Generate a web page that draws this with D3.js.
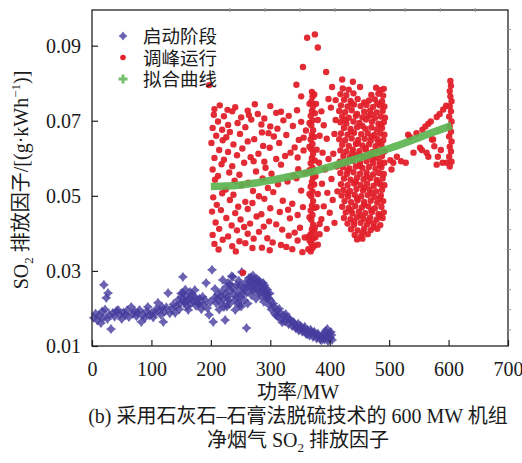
<!DOCTYPE html>
<html>
<head>
<meta charset="utf-8">
<script src="https://cdn.jsdelivr.net/npm/d3@7"></script>
<style>
  body { margin: 0; background: #fff; }
  text { font-family: "Liberation Serif", "Noto Sans CJK SC", serif; fill: #1a1a1a; }
</style>
</head>
<body>
<div id="chart"></div>
<script>
// x tick values and y tick values
const xTicks = [0, 100, 200, 300, 400, 500, 600, 700];
const yTicks = [0.01, 0.03, 0.05, 0.07, 0.09];
// faint minor ticks seen on top and right frame
const topMinor = [232, 291, 350, 409, 468, 527, 586, 645];
const rightMinor = [0.0943, 0.0890, 0.0837, 0.0783, 0.0730, 0.0677, 0.0623, 0.0570, 0.0517, 0.0463, 0.0410, 0.0357, 0.0303, 0.0250, 0.0197, 0.0143];

const legendNames = ["启动阶段", "调峰运行", "拟合曲线"];

// 启动阶段 (startup) points [MW, factor]
const startupPts = [
  [3,0.0175],[6,0.0186],[9,0.0168],[12,0.0181],[15,0.0161],[17,0.0192],[19,0.0175],[20,0.0263],[22,0.0197],[24,0.0228],
  [26,0.0172],[27,0.0241],[29,0.0183],[32,0.0145],[35,0.0188],[38,0.0178],[41,0.0193],[44,0.0196],[47,0.0184],[50,0.0172],
  [53,0.0189],[56,0.0183],[59,0.0195],[62,0.0177],[66,0.0204],[69,0.0186],[72,0.0191],[75,0.0179],[77,0.0188],[80,0.0196],
  [83,0.0164],[86,0.0183],[89,0.0175],[92,0.0192],[94,0.0204],[97,0.0181],[100,0.0187],
  [103,0.0176],[106,0.0188],[108,0.0198],[111,0.0215],[114,0.0196],[116,0.0183],[118,0.0204],[120,0.0164],[122,0.0191],[125,0.0203],
  [128,0.0241],[131,0.0187],[134,0.0199],[137,0.0211],[140,0.0188],[142,0.0206],[145,0.0223],[147,0.0198],[149,0.0214],[151,0.0229],
  [153,0.0284],[153,0.0241],[155,0.0218],[156,0.0215],[158,0.0232],[160,0.0205],[162,0.0196],[164,0.0227],[166,0.0213],[168,0.0238],
  [170,0.0219],[173,0.0249],[175,0.0207],[178,0.0215],[181,0.0226],[184,0.0198],[187,0.0211],[190,0.0223],[192,0.0268],[194,0.0201],
  [197,0.0183],[199,0.0217],
  [150,0.0240],[157,0.0250],[161,0.0222],[165,0.0244],[171,0.0230],[176,0.0226],[180,0.0212],[186,0.0231],
  [202,0.0303],[204,0.0164],[206,0.0228],[207,0.0252],[209,0.0214],[212,0.0238],[214,0.0197],[217,0.0215],[219,0.0246],[220,0.0276],
  [221,0.0225],[222,0.0204],[224,0.0169],[226,0.0258],[228,0.0231],[229,0.0268],[231,0.0212],[233,0.0249],[235,0.0286],[237,0.0284],
  [238,0.0237],[240,0.0221],[241,0.0196],[243,0.0262],[245,0.0245],[247,0.0274],[248,0.0208],[250,0.0231],[252,0.0297],[254,0.0255],
  [256,0.0222],[258,0.0268],[260,0.0148],[260,0.0242],[262,0.0213],[264,0.0281],[266,0.0259],[268,0.0236],[270,0.0271],[271,0.0288],
  [273,0.0249],[275,0.0265],[276,0.0226],[278,0.0278],[280,0.0257],[282,0.0241],[283,0.0269],[285,0.0233],[287,0.0252],[289,0.0218],
  [290,0.0262],[292,0.0244],[294,0.0226],[296,0.0238],[298,0.0209],[300,0.0222],
  [225,0.0240],[232,0.0265],[236,0.0255],[244,0.0230],[249,0.0262],[253,0.0240],[257,0.0251],[263,0.0262],[265,0.0272],[267,0.0283],
  [269,0.0250],[272,0.0262],[274,0.0278],[277,0.0270],[279,0.0247],[281,0.0274],[284,0.0259],[286,0.0245],[288,0.0268],[291,0.0255],
  [293,0.0235],[295,0.0250],[297,0.0228],[299,0.0240],[230,0.0222],[227,0.0205],[216,0.0232],[211,0.0226],[246,0.0215],[251,0.0205],
  [302,0.0197],[305,0.0213],[308,0.0186],[311,0.0196],[313,0.0178],[316,0.0189],[319,0.0171],[322,0.0182],[325,0.0165],[328,0.0176],
  [331,0.0158],[334,0.0169],[337,0.0153],[340,0.0162],[343,0.0147],[345,0.0150],[348,0.0141],[351,0.0153],[354,0.0138],[357,0.0146],
  [360,0.0133],[363,0.0141],[366,0.0128],[369,0.0137],[372,0.0124],[375,0.0131],[378,0.0120],[381,0.0128],[384,0.0118],[387,0.0125],
  [389,0.0132],[391,0.0117],[393,0.0140],[395,0.0126],[397,0.0113],[399,0.0134],[401,0.0122],[403,0.0129],[404,0.0116],
  [306,0.0205],[310,0.0181],[315,0.0199],[320,0.0163],[326,0.0185],[332,0.0172],[338,0.0164],[342,0.0155],[347,0.0159],[352,0.0145],
  [358,0.0151],[362,0.0131],[368,0.0143],[374,0.0138],[380,0.0133],[386,0.0115],[392,0.0128],[398,0.0121],[402,0.0137],[396,0.0145]
];

// 调峰运行 (peak regulation) points [MW, factor]
const peakPts = [
  // outliers
  [197,0.0795],[344,0.0796],[352,0.0765],[355,0.0843],[362,0.0921],[375,0.0930],[380,0.0895],[394,0.0830],[404,0.0790],
  [421,0.0810],[439,0.0804],[451,0.0790],[254,0.0295],
  // scattered cloud 200-365
  [215,0.0741],[228,0.0729],[241,0.0736],[262,0.0727],[300,0.0739],[318,0.0724],[274,0.0744],[206,0.0731],
  [205,0.0716],[222,0.0712],[236,0.0725],[251,0.0709],[279,0.0718],[290,0.0706],[310,0.0721],[331,0.0713],[345,0.0728],[264,0.0715],
  [212,0.0698],[245,0.0694],[268,0.0703],[285,0.0690],[322,0.0701],[352,0.0697],[229,0.0689],[300,0.0685],
  [203,0.0681],[219,0.0676],[232,0.0670],[258,0.0683],[297,0.0667],[338,0.0686],[360,0.0674],[312,0.0679],
  [209,0.0660],[226,0.0656],[249,0.0665],[273,0.0651],[306,0.0658],[327,0.0662],[348,0.0649],[286,0.0669],
  [201,0.0641],[238,0.0637],[262,0.0645],[288,0.0633],[315,0.0641],[341,0.0629],[220,0.0648],[356,0.0655],
  [214,0.0622],[229,0.0617],[253,0.0626],[280,0.0612],[299,0.0628],[334,0.0615],[356,0.0621],[244,0.0608],
  [206,0.0601],[222,0.0596],[267,0.0603],[310,0.0598],[325,0.0606],[290,0.0591],[346,0.0602],
  [218,0.0584],[236,0.0579],[256,0.0588],[292,0.0575],[318,0.0583],[347,0.0571],[203,0.0570],[272,0.0592],
  [231,0.0562],[248,0.0556],[276,0.0565],[302,0.0559],[339,0.0554],[358,0.0561],[212,0.0553],
  [240,0.0540],[263,0.0535],[287,0.0546],[329,0.0538],[207,0.0543],[252,0.0528],[313,0.0531],[344,0.0547],
  [225,0.0517],[271,0.0513],[296,0.0521],[219,0.0507],[238,0.0503],[281,0.0499],[305,0.0510],[352,0.0514],[204,0.0496],
  [232,0.0489],[258,0.0484],[290,0.0492],[321,0.0487],[337,0.0479],[210,0.0476],[246,0.0471],[270,0.0481],
  [300,0.0467],[330,0.0463],[355,0.0470],[202,0.0458],[217,0.0462],[241,0.0454],[262,0.0465],[285,0.0451],[316,0.0457],[346,0.0449],
  [226,0.0441],[250,0.0437],[277,0.0445],[298,0.0432],[333,0.0440],[208,0.0429],
  [235,0.0421],[266,0.0426],[289,0.0418],[310,0.0424],[350,0.0415],[214,0.0412],[244,0.0408],[256,0.0417],[281,0.0404],[320,0.0410],[341,0.0402],
  [203,0.0396],[229,0.0392],[262,0.0399],[295,0.0387],[331,0.0394],[358,0.0389],[220,0.0383],[248,0.0379],[272,0.0386],[304,0.0376],[346,0.0381],
  [206,0.0372],[236,0.0366],[258,0.0374],[286,0.0362],[318,0.0369],[337,0.0358],[213,0.0357],[242,0.0352],[270,0.0361],[299,0.0355],[327,0.0364],[354,0.0350],
  // vertical band near 370 MW
  [368,0.0352],[371,0.0361],[369,0.0373],[372,0.0386],[368,0.0398],[370,0.0411],[372,0.0423],[369,0.0436],[371,0.0449],[368,0.0461],
  [370,0.0474],[372,0.0486],[369,0.0499],[371,0.0512],[368,0.0524],[370,0.0537],[372,0.0549],[369,0.0562],[371,0.0575],[368,0.0587],
  [370,0.0600],[372,0.0612],[369,0.0625],[371,0.0638],[368,0.0650],[370,0.0663],[372,0.0675],[369,0.0688],[371,0.0701],[368,0.0713],
  [370,0.0726],[372,0.0738],[369,0.0751],[371,0.0764],[370,0.0777],[364,0.0358],[374,0.0367],[365,0.0392],[375,0.0415],
  [366,0.0381],[374,0.0405],[366,0.0443],[375,0.0468],[366,0.0505],[374,0.0530],[366,0.0568],[375,0.0594],[366,0.0631],[374,0.0657],
  [366,0.0694],[375,0.0720],[366,0.0745],[374,0.0770],
  // near the band
  [377,0.0745],[380,0.0702],[383,0.0660],[378,0.0623],[382,0.0588],[376,0.0552],[380,0.0505],[378,0.0470],[383,0.0425],[376,0.0390],[380,0.0370],
  // between band and dense cluster
  [386,0.0725],[390,0.0688],[395,0.0652],[388,0.0615],[398,0.0598],[392,0.0570],[403,0.0545],[387,0.0532],[396,0.0508],[405,0.0489],
  [390,0.0472],[400,0.0455],[386,0.0438],[408,0.0428],[395,0.0412],[383,0.0398],[402,0.0735],[410,0.0702],[408,0.0665],[412,0.0578],
  [406,0.0612],[413,0.0512],[398,0.0758],[410,0.0755],
  // dense cluster 415-493
  [422,0.0786],[432,0.0783],[478,0.0788],[486,0.0782],[491,0.0785],
  [418,0.0771],[428,0.0768],[440,0.0773],[470,0.0769],[482,0.0772],[490,0.0767],
  [424,0.0756],[435,0.0753],[447,0.0758],[466,0.0754],[476,0.0757],[488,0.0752],
  [419,0.0741],[430,0.0738],[441,0.0743],[452,0.0739],[462,0.0742],[473,0.0737],[484,0.0741],[492,0.0738],
  [416,0.0726],[426,0.0723],[437,0.0728],[458,0.0724],[468,0.0727],[479,0.0722],[489,0.0726],
  [421,0.0711],[432,0.0708],[444,0.0713],[455,0.0709],[465,0.0712],[476,0.0707],[486,0.0711],[493,0.0708],
  [418,0.0696],[428,0.0693],[440,0.0698],[450,0.0694],[471,0.0697],[482,0.0692],[491,0.0696],
  [424,0.0681],[435,0.0678],[446,0.0683],[460,0.0679],[470,0.0682],[479,0.0677],[488,0.0681],
  [419,0.0666],[430,0.0663],[441,0.0668],[453,0.0664],[464,0.0667],[475,0.0662],[485,0.0666],[492,0.0663],
  [416,0.0651],[426,0.0648],[437,0.0653],[448,0.0649],[459,0.0652],[469,0.0647],[480,0.0651],[490,0.0648],
  [421,0.0636],[432,0.0633],[444,0.0638],[455,0.0634],[466,0.0637],[477,0.0632],[487,0.0636],
  [418,0.0621],[428,0.0618],[439,0.0623],[450,0.0619],[461,0.0622],[472,0.0617],[482,0.0621],[492,0.0618],
  [423,0.0606],[434,0.0603],[445,0.0608],[456,0.0604],[467,0.0607],[478,0.0602],[488,0.0606],
  [417,0.0591],[428,0.0588],[439,0.0593],[451,0.0589],[462,0.0592],[473,0.0587],[484,0.0591],[492,0.0588],
  [422,0.0576],[433,0.0573],[444,0.0578],[455,0.0574],[466,0.0577],[477,0.0572],[487,0.0576],
  [418,0.0561],[429,0.0558],[440,0.0563],[451,0.0559],[462,0.0562],[473,0.0557],[483,0.0561],[491,0.0558],
  [424,0.0546],[435,0.0543],[446,0.0548],[457,0.0544],[468,0.0547],[479,0.0542],[489,0.0546],
  [419,0.0531],[430,0.0528],[441,0.0533],[452,0.0529],[463,0.0532],[474,0.0527],[485,0.0531],[492,0.0528],
  [423,0.0516],[434,0.0513],[445,0.0518],[456,0.0514],[467,0.0517],[478,0.0512],[488,0.0516],
  [420,0.0501],[431,0.0498],[442,0.0503],[453,0.0499],[464,0.0502],[475,0.0497],[486,0.0501],
  [425,0.0486],[436,0.0483],[447,0.0488],[458,0.0484],[469,0.0487],[480,0.0482],[490,0.0486],
  [421,0.0471],[432,0.0468],[443,0.0473],[454,0.0469],[465,0.0472],[476,0.0467],[487,0.0471],
  [427,0.0456],[438,0.0453],[449,0.0458],[460,0.0454],[471,0.0457],[482,0.0452],[491,0.0456],
  [424,0.0441],[435,0.0438],[446,0.0443],[457,0.0439],[468,0.0442],[479,0.0437],[489,0.0441],
  [430,0.0426],[441,0.0423],[452,0.0428],[463,0.0424],[474,0.0427],[485,0.0422],
  [436,0.0411],[447,0.0408],[458,0.0413],[469,0.0409],[480,0.0412],
  [442,0.0396],[453,0.0393],[464,0.0398],[446,0.0384],[455,0.0386],
  [437,0.0746],[458,0.0749],[480,0.0746],[446,0.0718],[470,0.0716],[426,0.0702],[461,0.0703],[486,0.0688],[455,0.0686],[436,0.0671],
  [470,0.0657],[447,0.0640],[482,0.0642],[460,0.0627],[438,0.0612],[472,0.0597],[451,0.0580],[484,0.0582],[430,0.0567],[462,0.0552],
  [444,0.0537],[480,0.0536],[458,0.0521],[430,0.0507],[470,0.0507],[446,0.0493],[484,0.0493],[458,0.0477],[436,0.0462],[470,0.0462],
  [452,0.0447],[484,0.0447],[441,0.0432],[466,0.0433],[456,0.0402],[474,0.0417],
  // right group 500-606
  [504,0.0570],[507,0.0588],[513,0.0604],[502,0.0595],[520,0.0592],[528,0.0588],[535,0.0657],[541,0.0615],[552,0.0628],[546,0.0667],
  [532,0.0663],[556,0.0676],[561,0.0685],[566,0.0604],[572,0.0650],[555,0.0622],[563,0.0615],[574,0.0650],[580,0.0710],[585,0.0718],
  [591,0.0730],[596,0.0740],[580,0.0583],[582,0.0604],[587,0.0622],[590,0.0588],[597,0.0588],[576,0.0632],[570,0.0698],[566,0.0692],
  [602,0.0578],[605,0.0591],[601,0.0604],[604,0.0618],[602,0.0631],[605,0.0645],[601,0.0658],[604,0.0671],[602,0.0684],[605,0.0698],
  [601,0.0711],[604,0.0725],[602,0.0738],[605,0.0752],[603,0.0765],[602,0.0779],[604,0.0793],[603,0.0806]
];

// 拟合曲线 (fitted curve) read along the green band
const fitX = [200, 225, 250, 275, 300, 325, 350, 375, 400, 425, 450, 475, 500, 525, 550, 575, 605];
const fitY = [0.0525, 0.0526, 0.0529, 0.0534, 0.0541, 0.0549, 0.0557, 0.0566, 0.0577, 0.0589, 0.0601, 0.0614, 0.0626, 0.0640, 0.0655, 0.0670, 0.0687];

const blue = "#463c9e", red = "#e2202a", green = "#5cb451";

const W = 522, H = 463;
const margin = {top: 10, right: 14, bottom: 117, left: 92};

const svg = d3.select("#chart").append("svg")
  .attr("width", W).attr("height", H);

const x = d3.scaleLinear().domain([0, 700]).range([margin.left, W - margin.right]);
const y = d3.scaleLinear().domain([0.01, 0.0995]).range([H - margin.bottom, margin.top]);

// 4-point star used for the startup marks
const star = {
  draw(ctx, size) {
    const r = Math.sqrt(size) / 2, s = r * 0.42;
    ctx.moveTo(0, -r); ctx.lineTo(s, -s); ctx.lineTo(r, 0); ctx.lineTo(s, s);
    ctx.lineTo(0, r); ctx.lineTo(-s, s); ctx.lineTo(-r, 0); ctx.lineTo(-s, -s);
    ctx.closePath();
  }
};

// startup marks
svg.append("g").selectAll("path")
  .data(startupPts).join("path")
  .attr("transform", d => `translate(${x(d[0])},${y(d[1])})`)
  .attr("d", d3.symbol(star, 100))
  .attr("fill", blue).attr("opacity", 0.8);

// peak regulation marks
svg.append("g").selectAll("circle")
  .data(peakPts).join("circle")
  .attr("cx", d => x(d[0])).attr("cy", d => y(d[1]))
  .attr("r", 3.2).attr("fill", red).attr("opacity", 0.95);

// fitted curve
const fit = fitX.map((v, i) => [v, fitY[i]]);
svg.append("path")
  .datum(fit)
  .attr("fill", "none").attr("stroke", green).attr("stroke-width", 7.5).attr("opacity", 0.92)
  .attr("d", d3.line().x(d => x(d[0])).y(d => y(d[1])).curve(d3.curveMonotoneX));

// frame
svg.append("rect")
  .attr("x", x(0)).attr("y", y(0.0995))
  .attr("width", x(700) - x(0)).attr("height", y(0.01) - y(0.0995))
  .attr("fill", "none").attr("stroke", "#222").attr("stroke-width", 1.3);

// axes with inward ticks
const xAxis = svg.append("g")
  .attr("transform", `translate(0,${y(0.01)})`)
  .call(d3.axisBottom(x).tickValues(xTicks).tickSize(-6).tickPadding(12).tickFormat(d3.format("d")));
const yAxis = svg.append("g")
  .attr("transform", `translate(${x(0)},0)`)
  .call(d3.axisLeft(y).tickValues(yTicks).tickSize(-6).tickPadding(11).tickFormat(d3.format(".2f")));

[xAxis, yAxis].forEach(g => {
  g.select(".domain").remove();
  g.selectAll(".tick line").attr("stroke", "#222").attr("stroke-width", 1.2);
  g.selectAll(".tick text").attr("font-size", 20).attr("fill", "#1a1a1a")
    .style("font-family", "'Liberation Serif', serif");
});
xAxis.selectAll(".tick text").attr("dy", "0.9em");

// faint minor ticks on top and right
svg.append("g").selectAll("line").data(topMinor).join("line")
  .attr("x1", d => x(d)).attr("x2", d => x(d))
  .attr("y1", y(0.0995) - 2).attr("y2", y(0.0995) + 2)
  .attr("stroke", "#999").attr("stroke-width", 1);
svg.append("g").selectAll("line").data(rightMinor).join("line")
  .attr("x1", x(700)).attr("x2", x(700) + 3)
  .attr("y1", d => y(d)).attr("y2", d => y(d))
  .attr("stroke", "#999").attr("stroke-width", 1);

// legend
const legend = svg.append("g");
const legendY = [36, 57.5, 79];
legendNames.forEach((name, i) => {
  const ly = legendY[i];
  if (i === 0) {
    legend.append("path").attr("transform", `translate(123,${ly})`)
      .attr("d", d3.symbol(star, 80)).attr("fill", blue).attr("opacity", 0.8);
  } else if (i === 1) {
    legend.append("circle").attr("cx", 123).attr("cy", ly).attr("r", 2.8).attr("fill", red);
  } else {
    legend.append("path").attr("transform", `translate(123,${ly})`)
      .attr("d", d3.symbol(d3.symbolCross, 45)).attr("fill", green).attr("opacity", 0.85);
  }
  legend.append("text").attr("x", 143).attr("y", ly + 7)
    .attr("font-size", 18.5)
    .text(name);
});

// y axis title
const yt = svg.append("text")
  .attr("transform", "translate(28,180) rotate(-90)")
  .attr("text-anchor", "middle").attr("font-size", 20);
yt.append("tspan").text("SO");
yt.append("tspan").attr("font-size", 13).attr("dy", 5).text("2");
yt.append("tspan").attr("dy", -5).text(" 排放因子/[(g·kWh");
yt.append("tspan").attr("font-size", 13).attr("dy", -8).text("−1");
yt.append("tspan").attr("dy", 8).text(")]");

// x axis title
svg.append("text")
  .attr("x", 298).attr("y", 399)
  .attr("text-anchor", "middle").attr("font-size", 20)
  .text("功率/MW");

// caption
svg.append("text")
  .attr("x", 298).attr("y", 423)
  .attr("text-anchor", "middle").attr("font-size", 20)
  .text("(b) 采用石灰石–石膏法脱硫技术的 600 MW 机组");
const c2 = svg.append("text")
  .attr("x", 298).attr("y", 447)
  .attr("text-anchor", "middle").attr("font-size", 20);
c2.append("tspan").text("净烟气 SO");
c2.append("tspan").attr("font-size", 13).attr("dy", 5).text("2");
c2.append("tspan").attr("dy", -5).text(" 排放因子");
</script>
</body>
</html>
